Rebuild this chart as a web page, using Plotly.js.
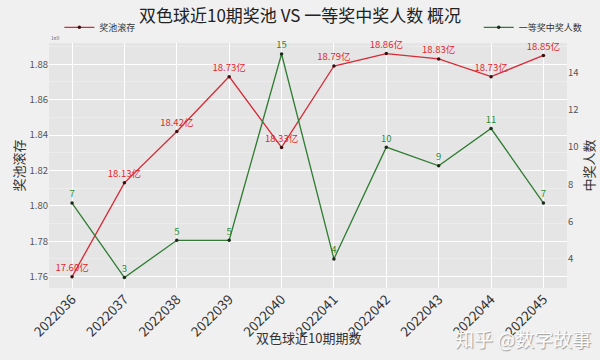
<!DOCTYPE html>
<html><head><meta charset="utf-8">
<script src="https://cdn.plot.ly/plotly-3.0.1.min.js"></script>
<style>html,body{margin:0;padding:0;background:#f0f0f0;}#chart{width:600px;height:360px;}</style>
</head><body><div id="chart"></div>
<script>
const periods = ["2022036","2022037","2022038","2022039","2022040","2022041","2022042","2022043","2022044","2022045"];
const poolYi = [17.60, 18.13, 18.42, 18.73, 18.33, 18.79, 18.86, 18.83, 18.73, 18.85];
const winners = [7, 3, 5, 5, 15, 4, 10, 9, 11, 7];
const leftTicks = [1.76, 1.78, 1.80, 1.82, 1.84, 1.86, 1.88];
const rightTicks = [4, 6, 8, 10, 12, 14];

const F = '"Noto Sans CJK SC", "Noto Sans", sans-serif';
const poolScaled = poolYi.map(v => v / 10);
const poolText = poolYi.map(v => v.toFixed(2) + '亿');

const traces = [
  {x: periods, y: poolScaled, type: 'scatter', mode: 'lines+markers+text', name: '奖池滚存',
   line: {color: '#d62a36', width: 1.3}, marker: {color: '#3a1010', size: 3.5},
   text: poolText, textposition: 'top center', textfont: {color: '#e3242b', size: 9.5, family: F},
   legend: 'legend', cliponaxis: false},
  {x: periods, y: winners, type: 'scatter', mode: 'lines+markers+text', name: '一等奖中奖人数',
   yaxis: 'y2', line: {color: '#2f7d32', width: 1.3}, marker: {color: '#1a2a1a', size: 3.5},
   text: winners.map(String), textposition: 'top center', textfont: {color: '#2e8b2e', size: 9.5, family: F},
   legend: 'legend2', cliponaxis: false}
];

const layout = {
  width: 600, height: 360,
  paper_bgcolor: '#f0f0f0', plot_bgcolor: '#e5e5e5',
  margin: {l: 49, r: 30, t: 43, b: 72},
  font: {family: F, color: '#555'},
  title: {text: '双色球近10期奖池 VS 一等奖中奖人数 概况', x: 0.5, xanchor: 'center', y: 0.955, yanchor: 'middle',
          font: {size: 17, color: '#222', family: F}},
  xaxis: {type: 'category', range: [-0.44, 9.45], tickangle: -45, tickfont: {size: 13.5, color: '#333', family: F},
          showgrid: true, gridcolor: '#ffffff', gridwidth: 1, zeroline: false, ticks: '', showline: false},
  yaxis: {range: [1.7536, 1.892], tickvals: leftTicks, ticktext: leftTicks.map(v => v.toFixed(2)),
          tickfont: {size: 9.5, color: '#555', family: F}, showgrid: true, gridcolor: '#ffffff', gridwidth: 1,
          minor: {dtick: 0.01, tick0: 1.75, showgrid: true, gridcolor: '#ececec', gridwidth: 0.8},
          zeroline: false, ticks: '', showline: false,
          title: {text: '奖池滚存', font: {size: 13, color: '#333', family: F}, standoff: 1}},
  yaxis2: {overlaying: 'y', side: 'right', range: [2.44, 15.59], tickvals: rightTicks,
           tickfont: {size: 9.5, color: '#555', family: F}, showgrid: false, zeroline: false, ticks: '',
           title: {text: '中奖人数', font: {size: 13, color: '#333', family: F}, standoff: 6}},
  legend: {x: 0.02, y: 1.005, xanchor: 'left', yanchor: 'bottom', bgcolor: 'rgba(0,0,0,0)',
           font: {size: 9, color: '#333', family: F}, orientation: 'h'},
  legend2: {x: 1.04, y: 1.005, xanchor: 'right', yanchor: 'bottom', bgcolor: 'rgba(0,0,0,0)',
            font: {size: 9, color: '#333', family: F}, orientation: 'h'},
  showlegend: true,
  annotations: [
    {text: '1e9', xref: 'paper', yref: 'paper', x: 0, y: 1.0, xanchor: 'left', yanchor: 'bottom',
     showarrow: false, font: {size: 5, color: '#666'}},
    {text: '双色球近10期期数', xref: 'paper', yref: 'paper', x: 0.5, y: 0, yshift: -49, xanchor: 'center', yanchor: 'middle',
     showarrow: false, font: {size: 13, color: '#333', family: F}},
    {text: '知乎 @数字故事', xref: 'paper', yref: 'paper', x: 1.05, y: 0, yshift: -50, xanchor: 'right', yanchor: 'middle',
     showarrow: false, font: {size: 19, color: '#fbfbfb', family: F, shadow: '1px 1px 1px #9a9a9a'}}
  ]
};
Plotly.newPlot('chart', traces, layout, {displayModeBar: false});
</script></body></html>
